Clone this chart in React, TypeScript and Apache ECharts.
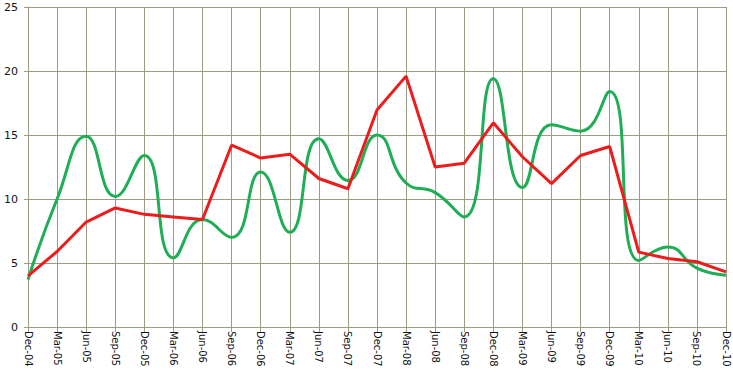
import React, { useEffect, useRef } from "react";
import * as echarts from "echarts";

const categories = [
  "Dec-04", "Mar-05", "Jun-05", "Sep-05", "Dec-05", "Mar-06", "Jun-06", "Sep-06",
  "Dec-06", "Mar-07", "Jun-07", "Sep-07", "Dec-07", "Mar-08", "Jun-08", "Sep-08",
  "Dec-08", "Mar-09", "Jun-09", "Sep-09", "Dec-09", "Mar-10", "Jun-10", "Sep-10", "Dec-10",
];

const redSeries = [
  4.0, 5.9, 8.2, 9.3, 8.8, 8.6, 8.4, 14.2, 13.2, 13.5, 11.6, 10.8, 16.95,
  19.6, 12.5, 12.8, 15.95, 13.3, 11.2, 13.4, 14.1, 5.85, 5.35, 5.1, 4.3,
];

const greenSeries = [
  3.7, 10.0, 14.9, 10.2, 13.4, 5.4, 8.4, 7.0, 12.1, 7.4, 14.7, 11.45, 15.0,
  11.25, 10.5, 8.6, 19.4, 10.9, 15.8, 15.3, 18.4, 5.2, 6.25, 4.6, 4.05,
];

const yTicks = { min: 0, max: 25, interval: 5 };

const GRID = "#9c9c84";

export default function App() {
  const ref = useRef<HTMLDivElement>(null);
  useEffect(() => {
    if (!ref.current) return;
    const chart = echarts.init(ref.current, undefined, { renderer: "svg" });
    chart.setOption({
      animation: false,
      backgroundColor: "#ffffff",
      grid: { left: 28, right: 7, top: 7, bottom: 46, containLabel: false },
      xAxis: {
        type: "category",
        data: categories,
        boundaryGap: false,
        axisLine: { show: true, lineStyle: { color: GRID, width: 1 } },
        axisTick: { show: true, length: 5, lineStyle: { color: GRID }, alignWithLabel: true },
        splitLine: { show: true, lineStyle: { color: GRID, width: 1 } },
        axisLabel: {
          rotate: -90,
          interval: 0,
          margin: 4,
          fontFamily: "DejaVu Sans",
          fontSize: 10,
          color: "#111",
        },
      },
      yAxis: {
        type: "value",
        min: yTicks.min,
        max: yTicks.max,
        interval: yTicks.interval,
        axisLine: { show: true, lineStyle: { color: GRID, width: 1 } },
        axisTick: { show: true, length: 4, lineStyle: { color: GRID } },
        splitLine: { show: true, lineStyle: { color: GRID, width: 1 } },
        axisLabel: {
          margin: 10,
          fontFamily: "DejaVu Sans",
          fontSize: 11,
          color: "#111",
        },
      },
      series: [
        {
          type: "line",
          data: greenSeries,
          smooth: 0.5,
          showSymbol: false,
          lineStyle: { color: "#1fae55", width: 3 },
          z: 2,
        },
        {
          type: "line",
          data: redSeries,
          smooth: false,
          showSymbol: false,
          lineStyle: { color: "#ec1c1c", width: 3 },
          z: 3,
        },
      ],
    });
    return () => chart.dispose();
  }, []);
  return <div ref={ref} style={{ width: 733, height: 373, position: "absolute", left: 0, top: 0 }} />;
}
